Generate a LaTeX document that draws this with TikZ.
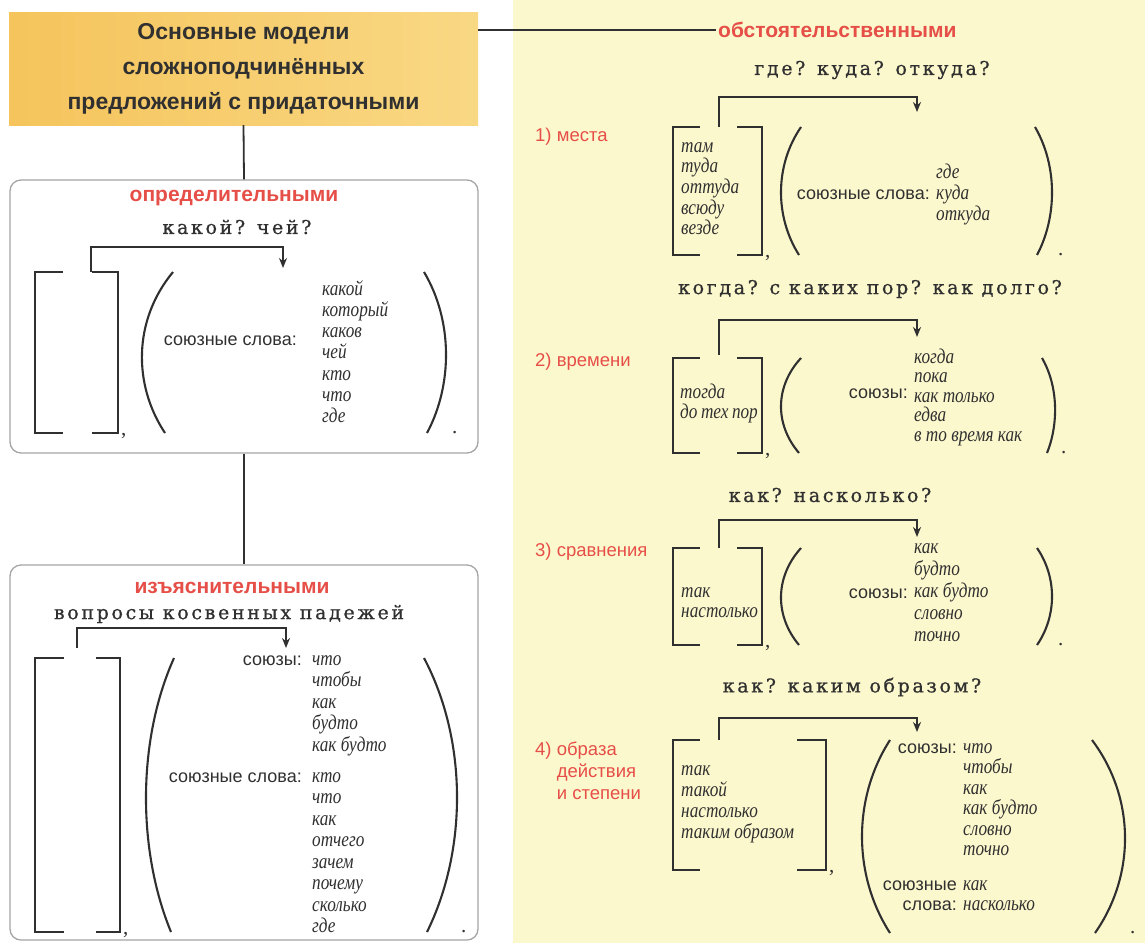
\documentclass[tikz,border=0pt]{standalone}
\usepackage{fontspec}
\setmainfont{Liberation Serif}
\setsansfont{Liberation Sans}
\newfontfamily\askfont{DejaVu Serif}[LetterSpace=14, FakeBold=0.8]
\newfontfamily\wordfont{Liberation Serif}[FakeStretch=0.82]
\usetikzlibrary{arrows.meta, positioning}
\definecolor{inkGray}{RGB}{48,48,48}
\definecolor{accentRed}{RGB}{230,78,72}
\definecolor{paleYellow}{RGB}{252,248,205}
\definecolor{boxGray}{RGB}{165,165,165}
\definecolor{goldLeft}{RGB}{245,196,92}
\definecolor{goldRight}{RGB}{249,216,132}

\tikzset{
  link/.style={draw=inkGray, line width=1.8pt},
  qarrow/.style={link, -{Stealth[length=10pt, width=8pt]}},
  brack/.style={draw=inkGray, line width=2.3pt},
  titlebox/.style={left color=goldLeft, right color=goldRight, minimum width=469pt,
    minimum height=113pt, inner sep=0pt, align=center, text=inkGray,
    font=\sffamily\bfseries\fontsize{23}{35}\selectfont},
  modelbox/.style={draw=boxGray, line width=1.3pt, rounded corners=11pt, fill=white,
    minimum width=468pt, inner sep=0pt},
  redhead/.style={text=accentRed, inner sep=2pt, font=\sffamily\bfseries\fontsize{21}{25}\selectfont},
  question/.style={text=inkGray, inner sep=0pt, font=\askfont\fontsize{19}{22}\selectfont},
  word/.style={text=inkGray, anchor=base west, inner sep=0pt, font=\wordfont\itshape\fontsize{21}{22}\selectfont},
  lbl/.style={text=inkGray, anchor=base east, inner sep=0pt, font=\sffamily\fontsize{18}{22}\selectfont},
  sectlbl/.style={text=accentRed, anchor=base west, inner sep=0pt, font=\sffamily\fontsize{18.5}{22}\selectfont},
  punct/.style={text=inkGray, anchor=base west, inner sep=0pt, font=\fontsize{21}{21}\selectfont}
}

\begin{document}
\begin{tikzpicture}[x=1pt, y=-1pt]
  % Background
  \useasboundingbox (0,0) rectangle (1145,943);
  \fill[white] (0,0) rectangle (1145,943);
  \fill[paleYellow] (513,0) rectangle (1145,943);

  % Title and left boxes
  \node[titlebox] (title) at (243.5,68.5) {Основные модели\\сложноподчинённых\\предложений с придаточными};
  \node[modelbox, minimum height=273pt] (defbox) at (244,316.5) {};
  \node[modelbox, minimum height=375pt] (explbox) at (244,752.5) {};
  \draw[link] (title.south) -- (defbox.north);
  \draw[link] (defbox.south) -- (explbox.north);

  \node[redhead, anchor=west] (circ) at (716,30) {обстоятельственными};
  \draw[link] (title.east |- circ.west) -- (circ.west);

  % Headings and questions
  \node[redhead] (defhead) at (234,198) {определительными};
  \node[question] (defq) at (237,227) {какой? чей?};
  \node[redhead] (explhead) at (232,588) {изъяснительными};
  \node[question] (explq) at (229,614) {вопросы косвенных падежей};
  \node[question] (placeq) at (872,70) {где? куда? откуда?};
  \node[question] (timeq) at (870,289) {когда? с каких пор? как долго?};
  \node[question] (compq) at (830,495) {как? насколько?};
  \node[question] (mannerq) at (852,687) {как? каким образом?};

  \node[sectlbl] (place) at (535,141) {1) места};
  \node[sectlbl] (time) at (535,366) {2) времени};
  \node[sectlbl] (comp) at (535,556) {3) сравнения};
  \node[sectlbl] (manner) at (535,755) {4) образа};
  \node[sectlbl] (manner2) at (556.6,777) {действия};
  \node[sectlbl] (manner3) at (556.6,799) {и степени};

  % Question arrows
  \coordinate (defq-from) at (91,272);   \coordinate (defq-to) at (283,268);
  \coordinate (explq-from) at (77,648);  \coordinate (explq-to) at (286,648);
  \coordinate (placeq-from) at (719,127); \coordinate (placeq-to) at (917,112);
  \coordinate (timeq-from) at (719,355);  \coordinate (timeq-to) at (917,337);
  \coordinate (compq-from) at (719,548);  \coordinate (compq-to) at (917,537);
  \coordinate (mannerq-from) at (719,740); \coordinate (mannerq-to) at (917,732);
  \draw[qarrow] (defq-from) -- ++(0,-25) -| (defq-to);
  \draw[qarrow] (explq-from) -- ++(0,-20) -| (explq-to);
  \draw[qarrow] (placeq-from) -- ++(0,-30) -| (placeq-to);
  \draw[qarrow] (timeq-from) -- ++(0,-35) -| (timeq-to);
  \draw[qarrow] (compq-from) -- ++(0,-28) -| (compq-to);
  \draw[qarrow] (mannerq-from) -- ++(0,-22) -| (mannerq-to);

  % Square brackets of the main clause
  \foreach \xl/\al/\xr/\ar/\yt/\yb [count=\i] in {35/63/118/92/272/433, 35/64/120/96/658/932,
      673/700/762/737/127/255, 673/700/762/737/358/453, 673/700/762/737/548/645, 673/700/826/797/740/870} {
    \draw[brack] (\al,\yt) -| (\xl,\yb) -- (\al,\yb);
    \draw[brack] (\ar,\yt) -| (\xr,\yb) -- (\ar,\yb);
    \node[punct] (comma-\i) at (\xr+3,\yb+2) {,};
  }

  % Round brackets of the subordinate clause
  \foreach \ltx/\lmx/\lbx/\rtx/\rmx/\rbx/\yt/\yb/\px [count=\i] in {
      173/142/165/424/446/427/272/433/452, 174/146/171/424/457/427/658/932/461,
      801/781/799/1035/1052/1037/127/255/1058, 801/781/799/1042/1055/1047/358/453/1061,
      801/781/799/1037/1052/1037/548/645/1058, 890/862/890/1092/1125/1095/740/933/1130} {
    \draw[brack, line width=2.1pt] (\ltx,\yt) .. controls ({(8*\lmx-\ltx-\lbx)/6},{\yt+0.3*(\yb-\yt)})
      and ({(8*\lmx-\ltx-\lbx)/6},{\yb-0.3*(\yb-\yt)}) .. (\lbx,\yb);
    \draw[brack, line width=2.1pt] (\rtx,\yt) .. controls ({(8*\rmx-\rtx-\rbx)/6},{\yt+0.3*(\yb-\yt)})
      and ({(8*\rmx-\rtx-\rbx)/6},{\yb-0.3*(\yb-\yt)}) .. (\rbx,\yb);
    \node[punct] (dot-\i) at (\px,\yb) {.};
  }

  % Definitive clauses
  \node[lbl] (deflbl) at (297,345) {союзные слова:};
  \foreach \w [count=\i from 0] in {какой, который, каков, чей, кто, что, где}
    \node[word] (defw-\i) at (322,{295+21.3*\i}) {\w};

  % Explanatory clauses
  \node[lbl] (expllbl) at (302,665) {союзы:};
  \foreach \w [count=\i from 0] in {что, чтобы, как, будто, как будто}
    \node[word] (explc-\i) at (312,{665+21.5*\i}) {\w};
  \node[lbl] (expllbl2) at (302,782) {союзные слова:};
  \foreach \w [count=\i from 0] in {кто, что, как, отчего, зачем, почему, сколько, где}
    \node[word] (explw-\i) at (312,{782+21.5*\i}) {\w};

  % 1) place
  \foreach \w [count=\i from 0] in {там, туда, оттуда, всюду, везде}
    \node[word] (placem-\i) at (681,{152+20.7*\i}) {\w};
  \node[lbl] (placelbl) at (930,199) {союзные слова:};
  \foreach \w [count=\i from 0] in {где, куда, откуда}
    \node[word] (placew-\i) at (936,{178+21*\i}) {\w};

  % 2) time
  \foreach \w [count=\i from 0] in {тогда, до\,тех\,пор}
    \node[word] (timem-\i) at (680,{398+20*\i}) {\w};
  \node[lbl] (timelbl) at (908,398) {союзы:};
  \foreach \w [count=\i from 0] in {когда, пока, как только, едва, в то время как}
    \node[word] (timec-\i) at (914,{363+19.5*\i}) {\w};

  % 3) comparison
  \foreach \w [count=\i from 0] in {так, настолько}
    \node[word] (compm-\i) at (681,{597+20*\i}) {\w};
  \node[lbl] (complbl) at (908,598) {союзы:};
  \foreach \w [count=\i from 0] in {как, будто, как будто, словно, точно}
    \node[word] (compc-\i) at (914,{553+22.2*\i}) {\w};

  % 4) manner and degree
  \foreach \w [count=\i from 0] in {так, такой, настолько, таким образом}
    \node[word] (mannerm-\i) at (681,{775+21*\i}) {\w};
  \node[lbl] (mannerlbl) at (957,753) {союзы:};
  \foreach \w [count=\i from 0] in {что, чтобы, как, как будто, словно, точно}
    \node[word] (mannerc-\i) at (963,{753+20.5*\i}) {\w};
  \node[lbl] (mannerlbl2) at (957,890) {союзные};
  \node[lbl] (mannerlbl3) at (957,910) {слова:};
  \foreach \w [count=\i from 0] in {как, насколько}
    \node[word] (mannerw-\i) at (963,{890+20*\i}) {\w};
\end{tikzpicture}
\end{document}
